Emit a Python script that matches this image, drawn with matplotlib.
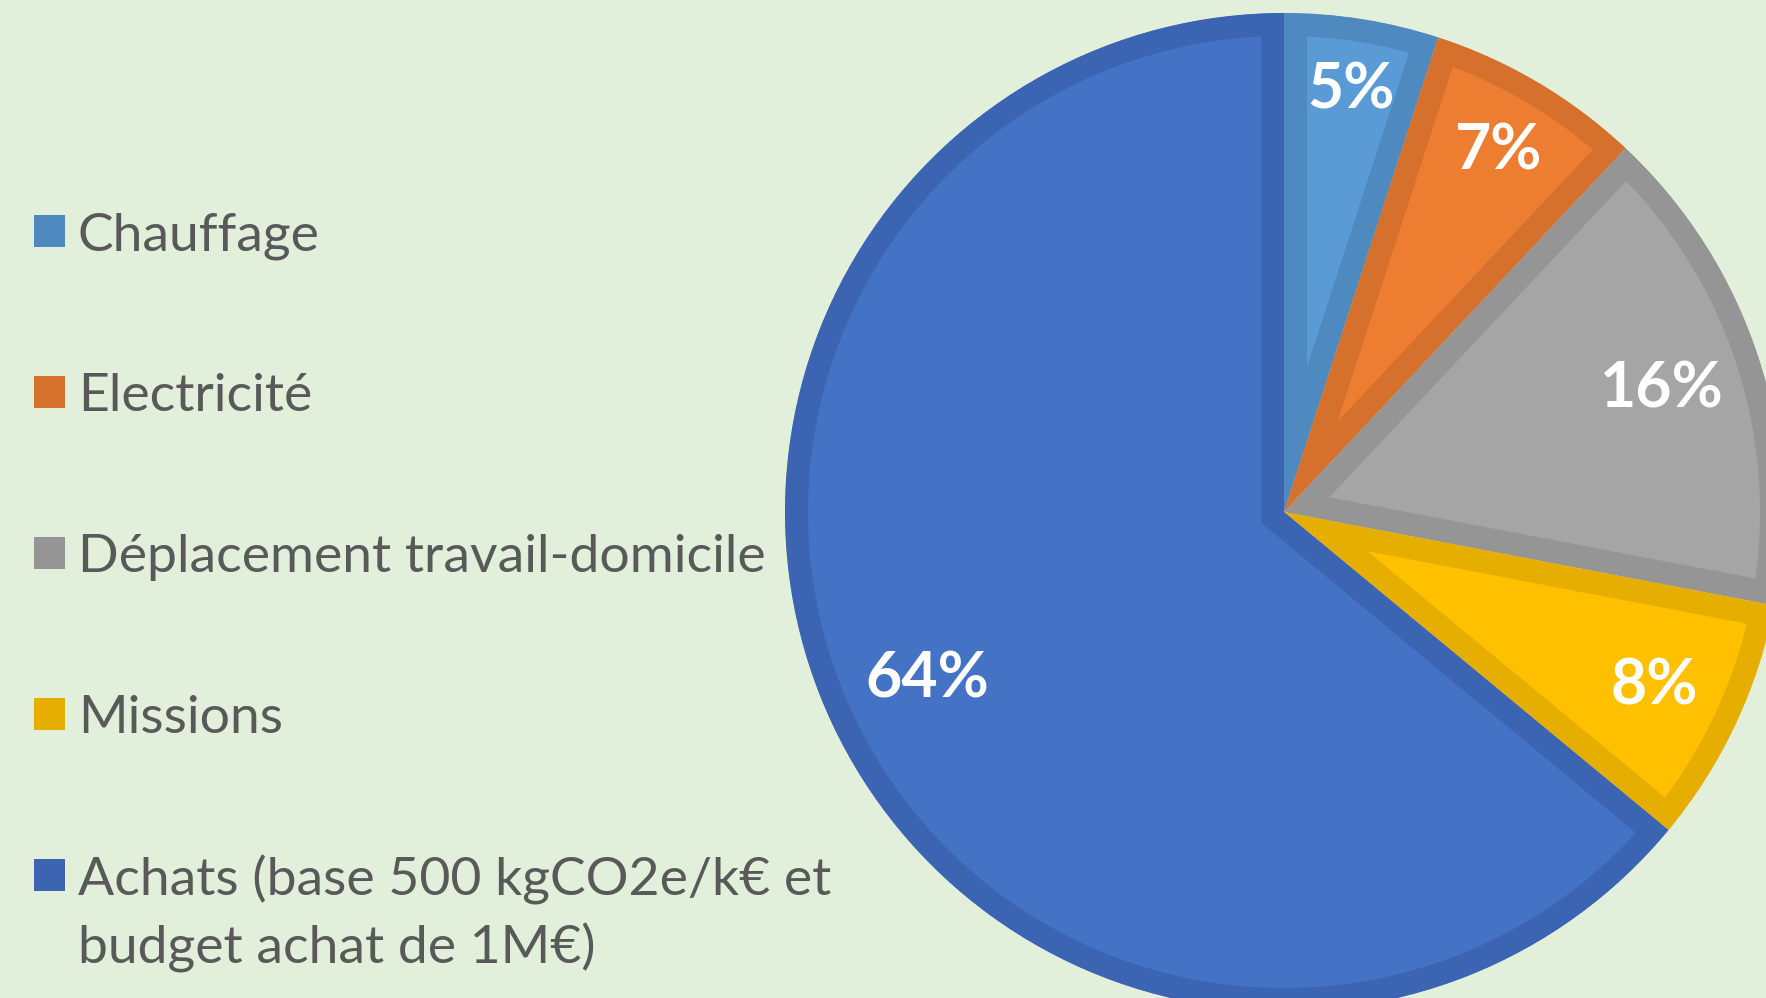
import matplotlib
matplotlib.use("Agg")
import numpy as np
import matplotlib.pyplot as plt
from matplotlib.patches import Rectangle, Wedge

# données
categories = ["Chauffage", "Electricité", "Déplacement travail-domicile", "Missions",
              "Achats (base 500 kgCO2e/k€ et\nbudget achat de 1M€)"]
parts = [5, 7, 16, 8, 64]
pct_labels = ["5%", "7%", "16%", "8%", "64%"]

fill_colors = ["#5B9BD5", "#ED7D31", "#A5A5A5", "#FFC000", "#4472C4"]
edge_colors = ["#4E89C0", "#D5712D", "#959595", "#E5AE00", "#3B65B2"]
label_dist = [0.855, 0.84, 0.795, 0.82, 0.79]
bg = "#E2EFDA"

plt.rcParams['font.family'] = ['Lato', 'DejaVu Sans']

W, H = 1766, 998
fig = plt.figure(figsize=(W / 100, H / 100), dpi=100, facecolor=bg)

# pie: center (1284, 512) px, radius 499 px
cx, cy, R = 1284, 512, 499
ax = fig.add_axes([(cx - R) / W, (H - cy - R) / H, 2 * R / W, 2 * R / H])
ax.set_facecolor(bg)
ax.axis("off")

wedges, texts = ax.pie(parts, colors=fill_colors, startangle=90, counterclock=False,
                       radius=1, wedgeprops=dict(linewidth=0))
ax.set_xlim(-1, 1)
ax.set_ylim(-1, 1)

for w, ec, lab, d in zip(wedges, edge_colors, pct_labels, label_dist):
    # bordure intérieure : trait épais découpé par la part elle-même
    clip = Wedge(w.center, w.r, w.theta1, w.theta2, transform=ax.transData)
    w.set_edgecolor(ec)
    w.set_linewidth(33)
    w.set_joinstyle("miter")
    w.set_clip_on(True)
    w.set_clip_path(clip)
    mid = np.deg2rad((w.theta1 + w.theta2) / 2)
    ax.text(d * np.cos(mid), d * np.sin(mid), lab, color="white", fontsize=45,
            fontweight="bold", ha="center", va="center")

# légende
y0, step, line_step = 231, 161, 68
for i, (cat, col) in enumerate(zip(categories, edge_colors)):
    yc = y0 + i * step
    fig.patches.append(Rectangle((34 / W, 1 - (yc + 16) / H), 31 / W, 32 / H,
                                 transform=fig.transFigure, facecolor=col, edgecolor="none"))
    for j, line in enumerate(cat.split("\n")):
        fig.text(78 / W, 1 - (yc + j * line_step) / H, line, fontsize=38.5, color="#595959",
                 va="center_baseline", ha="left")

fig.savefig("out.png", dpi=100, facecolor=bg)
